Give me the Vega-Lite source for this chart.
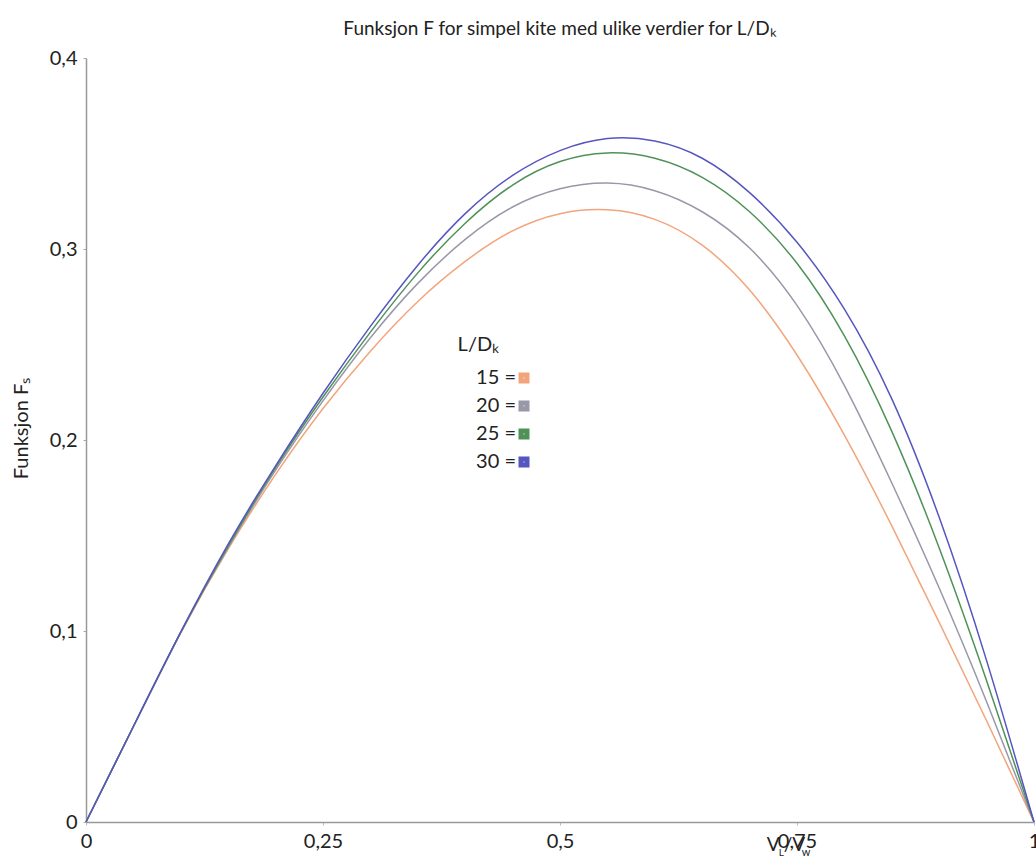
{
  "$schema": "https://vega.github.io/schema/vega-lite/v6.json",
  "autosize": {"type": "none"},
  "padding": {"left": 86, "top": 58, "right": 2, "bottom": 45},
  "width": 948,
  "height": 764,
  "background": "white",
  "config": {
    "font": "Lato",
    "view": {"stroke": null},
    "text": {"font": "Lato", "color": "#222"}
  },
  "title": {
    "text": "Funksjon F for simpel kite med ulike verdier for L/Dₖ",
    "anchor": "middle",
    "fontSize": 19,
    "fontWeight": "normal",
    "font": "Lato",
    "color": "#222",
    "offset": 9
  },
  "layer": [
    {
      "data": {
        "values": [
          {"u": 0, "F": 0, "ld": "15"}, {"u": 0.05, "F": 0.05, "ld": "15"}, {"u": 0.1, "F": 0.099, "ld": "15"}, {"u": 0.15, "F": 0.143, "ld": "15"}, {"u": 0.2, "F": 0.182, "ld": "15"}, {"u": 0.25, "F": 0.2165, "ld": "15"}, {"u": 0.3, "F": 0.2465, "ld": "15"}, {"u": 0.35, "F": 0.2725, "ld": "15"}, {"u": 0.4, "F": 0.2935, "ld": "15"}, {"u": 0.45, "F": 0.3095, "ld": "15"}, {"u": 0.5, "F": 0.3185, "ld": "15"}, {"u": 0.55, "F": 0.3205, "ld": "15"}, {"u": 0.6, "F": 0.3155, "ld": "15"}, {"u": 0.65, "F": 0.302, "ld": "15"}, {"u": 0.7, "F": 0.2785, "ld": "15"}, {"u": 0.75, "F": 0.2445, "ld": "15"}, {"u": 0.8, "F": 0.2025, "ld": "15"}, {"u": 0.85, "F": 0.155, "ld": "15"}, {"u": 0.9, "F": 0.1045, "ld": "15"}, {"u": 0.95, "F": 0.053, "ld": "15"}, {"u": 1, "F": 0, "ld": "15"},
          {"u": 0, "F": 0, "ld": "20"}, {"u": 0.05, "F": 0.05, "ld": "20"}, {"u": 0.1, "F": 0.0993, "ld": "20"}, {"u": 0.15, "F": 0.1438, "ld": "20"}, {"u": 0.2, "F": 0.1842, "ld": "20"}, {"u": 0.25, "F": 0.2205, "ld": "20"}, {"u": 0.3, "F": 0.2535, "ld": "20"}, {"u": 0.35, "F": 0.282, "ld": "20"}, {"u": 0.4, "F": 0.305, "ld": "20"}, {"u": 0.45, "F": 0.322, "ld": "20"}, {"u": 0.5, "F": 0.3315, "ld": "20"}, {"u": 0.55, "F": 0.3345, "ld": "20"}, {"u": 0.6, "F": 0.3305, "ld": "20"}, {"u": 0.65, "F": 0.3195, "ld": "20"}, {"u": 0.7, "F": 0.3005, "ld": "20"}, {"u": 0.75, "F": 0.2705, "ld": "20"}, {"u": 0.8, "F": 0.2285, "ld": "20"}, {"u": 0.85, "F": 0.1775, "ld": "20"}, {"u": 0.9, "F": 0.1225, "ld": "20"}, {"u": 0.95, "F": 0.063, "ld": "20"}, {"u": 1, "F": 0, "ld": "20"},
          {"u": 0, "F": 0, "ld": "25"}, {"u": 0.05, "F": 0.05, "ld": "25"}, {"u": 0.1, "F": 0.0994, "ld": "25"}, {"u": 0.15, "F": 0.1445, "ld": "25"}, {"u": 0.2, "F": 0.1855, "ld": "25"}, {"u": 0.25, "F": 0.2225, "ld": "25"}, {"u": 0.3, "F": 0.2565, "ld": "25"}, {"u": 0.35, "F": 0.2875, "ld": "25"}, {"u": 0.4, "F": 0.3135, "ld": "25"}, {"u": 0.45, "F": 0.3335, "ld": "25"}, {"u": 0.5, "F": 0.3458, "ld": "25"}, {"u": 0.55, "F": 0.3503, "ld": "25"}, {"u": 0.6, "F": 0.3475, "ld": "25"}, {"u": 0.65, "F": 0.3375, "ld": "25"}, {"u": 0.7, "F": 0.3195, "ld": "25"}, {"u": 0.75, "F": 0.2925, "ld": "25"}, {"u": 0.8, "F": 0.2545, "ld": "25"}, {"u": 0.85, "F": 0.2045, "ld": "25"}, {"u": 0.9, "F": 0.1435, "ld": "25"}, {"u": 0.95, "F": 0.074, "ld": "25"}, {"u": 1, "F": 0, "ld": "25"},
          {"u": 0, "F": 0, "ld": "30"}, {"u": 0.05, "F": 0.05, "ld": "30"}, {"u": 0.1, "F": 0.0995, "ld": "30"}, {"u": 0.15, "F": 0.1455, "ld": "30"}, {"u": 0.2, "F": 0.1865, "ld": "30"}, {"u": 0.25, "F": 0.2245, "ld": "30"}, {"u": 0.3, "F": 0.2595, "ld": "30"}, {"u": 0.35, "F": 0.2915, "ld": "30"}, {"u": 0.4, "F": 0.3185, "ld": "30"}, {"u": 0.45, "F": 0.3385, "ld": "30"}, {"u": 0.5, "F": 0.3515, "ld": "30"}, {"u": 0.55, "F": 0.3578, "ld": "30"}, {"u": 0.6, "F": 0.3565, "ld": "30"}, {"u": 0.65, "F": 0.3475, "ld": "30"}, {"u": 0.7, "F": 0.3295, "ld": "30"}, {"u": 0.75, "F": 0.3035, "ld": "30"}, {"u": 0.8, "F": 0.2685, "ld": "30"}, {"u": 0.85, "F": 0.2215, "ld": "30"}, {"u": 0.9, "F": 0.1595, "ld": "30"}, {"u": 0.95, "F": 0.0845, "ld": "30"}, {"u": 1, "F": 0, "ld": "30"}
        ]
      },
      "mark": {"type": "line", "interpolate": "natural", "strokeWidth": 1.5},
      "encoding": {
        "x": {
          "field": "u", "type": "quantitative",
          "scale": {"domain": [0, 1], "nice": false, "zero": false},
          "axis": {
            "title": null,
            "values": [0, 0.25, 0.5, 0.75, 1],
            "labelExpr": "replace(format(datum.value, '~g'), '.', ',')",
            "labelFontSize": 20, "labelColor": "#222", "labelFont": "Lato",
            "labelPadding": 6, "labelFlush": false, "labelOverlap": false,
            "domainColor": "#999", "domainWidth": 1.5,
            "tickColor": "#bbb", "tickSize": 3, "grid": false
          }
        },
        "y": {
          "field": "F", "type": "quantitative",
          "scale": {"domain": [0, 0.4], "nice": false},
          "axis": {
            "title": "Funksjon Fₛ",
            "titleFontSize": 20, "titleFontWeight": "normal", "titleColor": "#222", "titleFont": "Lato",
            "titleX": -65, "titleY": 370, "titleAngle": -90, "titleAlign": "center", "titleBaseline": "middle",
            "values": [0, 0.1, 0.2, 0.3, 0.4],
            "labelExpr": "replace(format(datum.value, '.1~f'), '.', ',')",
            "labelFontSize": 20, "labelColor": "#222", "labelFont": "Lato",
            "labelPadding": 6, "labelFlush": false, "labelOverlap": false,
            "domainColor": "#999", "domainWidth": 1.5,
            "tickColor": "#aaa", "tickSize": 3, "grid": false
          }
        },
        "color": {
          "field": "ld", "type": "nominal",
          "scale": {"domain": ["15", "20", "25", "30"], "range": ["#f2a57c", "#9898a8", "#4f9258", "#5656c0"]},
          "legend": {
            "orient": "none", "legendX": 428, "legendY": 310,
            "title": null,
            "labelFontSize": 20, "labelColor": "#222", "labelFont": "Lato",
            "labelExpr": "datum.label + ' ='",
            "symbolType": "square", "symbolSize": 36, "symbolStrokeWidth": 5,
            "labelAlign": "right", "labelOffset": -18, "rowPadding": 2
          }
        }
      }
    },
    {
      "data": {"values": [{}]},
      "mark": {"type": "text", "text": "L/Dₖ", "align": "left", "baseline": "alphabetic", "fontSize": 20, "color": "#222"},
      "encoding": {"x": {"datum": 0.392, "type": "quantitative"}, "y": {"datum": 0.2466, "type": "quantitative"}}
    },
    {
      "data": {"values": [{}]},
      "mark": {"type": "text", "text": "V", "align": "left", "baseline": "alphabetic", "fontSize": 19, "dy": 29, "color": "#222"},
      "encoding": {"x": {"datum": 0.718, "type": "quantitative"}, "y": {"datum": 0, "type": "quantitative"}}
    },
    {
      "data": {"values": [{}]},
      "mark": {"type": "text", "text": "L", "align": "left", "baseline": "alphabetic", "fontSize": 10, "dx": 12, "dy": 34, "color": "#222"},
      "encoding": {"x": {"datum": 0.718, "type": "quantitative"}, "y": {"datum": 0, "type": "quantitative"}}
    },
    {
      "data": {"values": [{}]},
      "mark": {"type": "text", "text": "/V", "align": "left", "baseline": "alphabetic", "fontSize": 19, "dx": 17, "dy": 29, "color": "#222"},
      "encoding": {"x": {"datum": 0.718, "type": "quantitative"}, "y": {"datum": 0, "type": "quantitative"}}
    },
    {
      "data": {"values": [{}]},
      "mark": {"type": "text", "text": "w", "align": "left", "baseline": "alphabetic", "fontSize": 11, "dx": 35, "dy": 34, "color": "#222"},
      "encoding": {"x": {"datum": 0.718, "type": "quantitative"}, "y": {"datum": 0, "type": "quantitative"}}
    }
  ]
}
